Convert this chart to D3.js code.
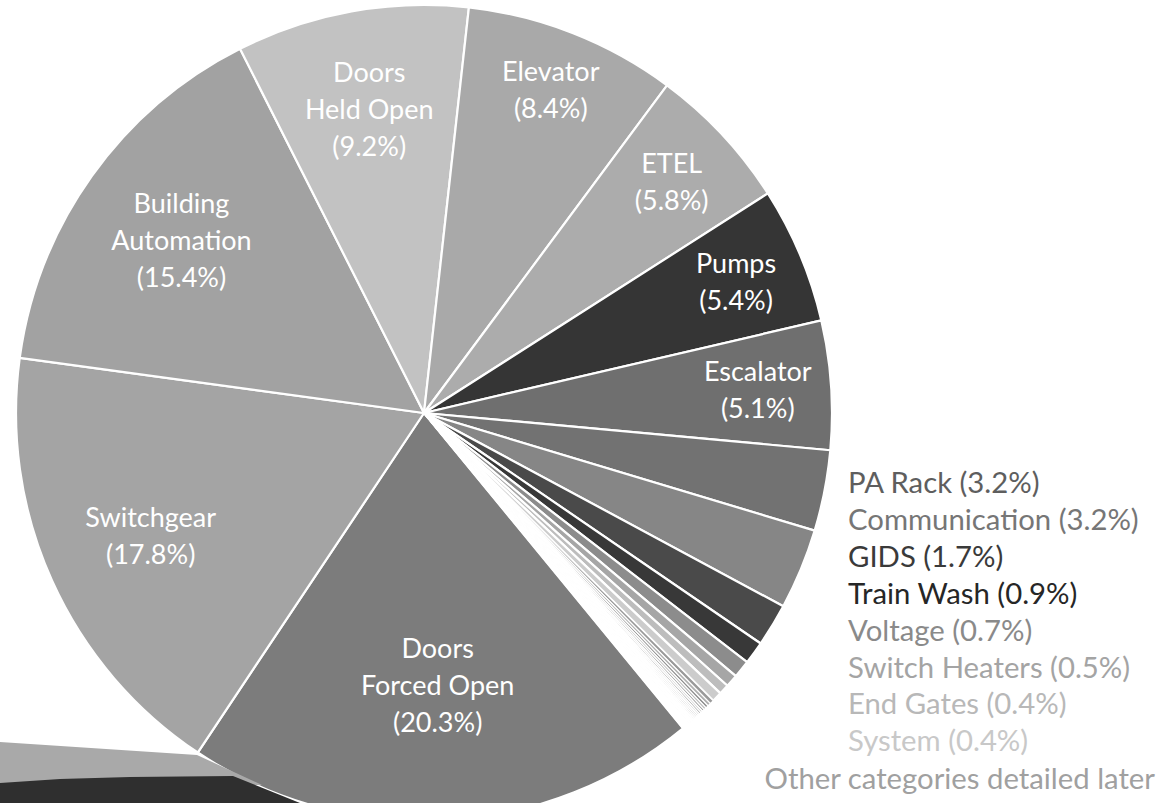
<!DOCTYPE html>
<html>
<head>
<meta charset="utf-8">
<script src="https://cdn.jsdelivr.net/npm/d3@7/dist/d3.min.js"></script>
<style>
  html, body { margin: 0; padding: 0; background: #ffffff; }
  svg { display: block; }
  text { font-family: Lato, "Open Sans", sans-serif; }
</style>
</head>
<body>
<svg id="chart" width="1158" height="803"></svg>
<script>
// ---- data ----
const categories = ["Doors Forced Open", "Switchgear", "Building Automation", "Doors Held Open",
  "Elevator", "ETEL", "Pumps", "Escalator", "PA Rack", "Communication", "GIDS",
  "Train Wash", "Voltage", "Switch Heaters", "End Gates", "System"];
const values = [20.3, 17.8, 15.4, 9.2, 8.4, 5.8, 5.4, 5.1, 3.2, 3.2, 1.7, 0.9, 0.7, 0.5, 0.4, 0.4];
// many tiny categories grouped as "Other categories detailed later"
const otherValues = [0.16, 0.13, 0.11, 0.1, 0.09, 0.08, 0.08, 0.07, 0.07, 0.06, 0.06, 0.06,
  0.05, 0.05, 0.05, 0.04, 0.04, 0.04, 0.04, 0.03, 0.03, 0.03, 0.03, 0.02, 0.02, 0.02, 0.02, 0.02];
const otherLabel = "Other categories detailed later";
const insideLines = {
  "Doors Forced Open": ["Doors", "Forced Open"],
  "Switchgear": ["Switchgear"],
  "Building Automation": ["Building", "Automation"],
  "Doors Held Open": ["Doors", "Held Open"],
  "Elevator": ["Elevator"],
  "ETEL": ["ETEL"],
  "Pumps": ["Pumps"],
  "Escalator": ["Escalator"]
};
const outsideLabels = ["PA Rack", "Communication", "GIDS", "Train Wash", "Voltage",
  "Switch Heaters", "End Gates", "System"];

// ---- styles ----
const colors = ["#7c7c7c", "#a4a4a4", "#a2a2a2", "#c2c2c2", "#a9a9a9", "#acacac", "#353535",
  "#6f6f6f", "#727272", "#868686", "#4a4a4a", "#383838", "#8c8c8c", "#a6a6a6", "#bdbdbd", "#cccccc"];
const otherColors = ["#9a9a9a", "#b0b0b0", "#8f8f8f", "#bcbcbc", "#9c9c9c", "#c6c6c6", "#a2a2a2",
  "#b8b8b8", "#cdcdcd", "#a8a8a8", "#c4c4c4", "#b0b0b0", "#d2d2d2", "#b6b6b6", "#d6d6d6",
  "#bababa", "#dadada", "#c8c8c8", "#dddddd", "#cfcfcf", "#e2e2e2", "#d8d8d8", "#e6e6e6",
  "#e0e0e0", "#eaeaea", "#eeeeee", "#f2f2f2", "#f6f6f6"];
const textColors = {
  "PA Rack": "#5e5e5e", "Communication": "#767676", "GIDS": "#3a3a3a", "Train Wash": "#262626",
  "Voltage": "#8a8a8a", "Switch Heaters": "#a4a4a4", "End Gates": "#b8b8b8", "System": "#c8c8c8"
};
const labelRadius = {
  "Doors Forced Open": 0.67, "Switchgear": 0.735, "Building Automation": 0.73,
  "Doors Held Open": 0.755, "Elevator": 0.85, "ETEL": 0.83, "Pumps": 0.83, "Escalator": 0.82
};

const W = 1158, H = 803;
const cx = 424, cy = 413, R = 408;
const startDeg = 140.6;
const fontSize = 27;
const legendFont = 29.3;
const lineH = 37;

const svg = d3.select("#chart");

const data = categories.map((c, i) => ({ name: c, value: values[i], color: colors[i], main: true }))
  .concat(otherValues.map((v, i) => ({ name: "other" + i, value: v, color: otherColors[i], main: false })));

const pie = d3.pie().sort(null).value(d => d.value)
  .startAngle(startDeg * Math.PI / 180)
  .endAngle(startDeg * Math.PI / 180 + 2 * Math.PI);
const arcs = pie(data);
const arc = d3.arc().innerRadius(0).outerRadius(R);

const g = svg.append("g").attr("transform", `translate(${cx},${cy})`);
g.selectAll("path.slice").data(arcs).enter().append("path")
  .attr("class", "slice")
  .attr("d", arc)
  .attr("fill", d => d.data.color)
  .attr("stroke", "#ffffff")
  .attr("stroke-width", d => d.data.main ? 2.2 : 1.3)
  .attr("stroke-linejoin", "round");

const fmt = v => "(" + d3.format(".1f")(v) + "%)";

// inside labels
arcs.filter(d => insideLines[d.data.name]).forEach(d => {
  const lines = insideLines[d.data.name].concat([fmt(d.data.value)]);
  const r = R * labelRadius[d.data.name];
  const la = d3.arc().innerRadius(r).outerRadius(r);
  const [x, y] = la.centroid(d);
  const n = lines.length;
  const t = g.append("text")
    .attr("text-anchor", "middle")
    .attr("fill", "#ffffff")
    .attr("font-size", fontSize);
  lines.forEach((ln, i) => {
    t.append("tspan")
      .attr("x", x)
      .attr("y", y + (i - (n - 1) / 2) * lineH + fontSize * 0.35)
      .text(ln);
  });
});

// outside legend-like labels
const legX = 848, legY0 = 493, legStep = 36.9;
outsideLabels.forEach((name, i) => {
  const v = values[categories.indexOf(name)];
  svg.append("text")
    .attr("x", legX)
    .attr("y", legY0 + i * legStep)
    .attr("font-size", legendFont)
    .attr("fill", textColors[name])
    .text(name + " " + fmt(v));
});
svg.append("text")
  .attr("x", 1155)
  .attr("y", legY0 + outsideLabels.length * legStep + 1)
  .attr("text-anchor", "end")
  .attr("font-size", legendFont)
  .attr("fill", "#a0a0a0")
  .text(otherLabel);

// partial shapes of the following figure at the bottom-left edge
const poly = d3.line();
svg.append("path")
  .attr("d", poly([[0, 742], [197, 755], [262, 785], [0, 785]]) + "Z")
  .attr("fill", "#a9a9a9");
svg.append("path")
  .attr("d", poly([[0, 783], [60, 779], [130, 777], [233, 776], [300, 803], [0, 803]]) + "Z")
  .attr("fill", "#2f2f2f");
</script>
</body>
</html>
